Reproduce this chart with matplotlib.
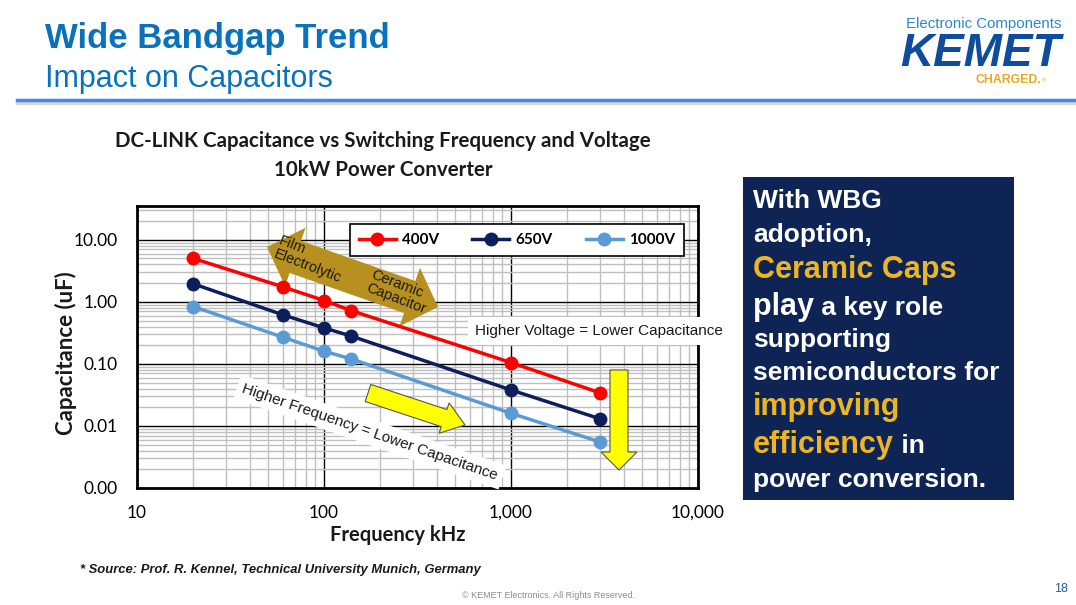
import numpy as np
import matplotlib
matplotlib.use('Agg')
from matplotlib import pyplot as plt
from matplotlib.patches import Polygon, Rectangle
from matplotlib.ticker import FixedLocator, FixedFormatter, NullFormatter, LogLocator

# data
freq = [20, 60, 100, 140, 1000, 3000]          # kHz
cap_400 = [5.0, 1.75, 1.05, 0.72, 0.105, 0.034]
cap_650 = [1.95, 0.62, 0.38, 0.28, 0.038, 0.013]
cap_1000 = [0.84, 0.27, 0.16, 0.12, 0.016, 0.0055]
series_names = ['400V', '650V', '1000V']
series_colors = ['#FF0000', '#0C1F5C', '#5B9BD5']

xticks = [10, 100, 1000, 10000]
xlabels = ['10', '100', '1,000', '10,000']
yticks = [0.001, 0.01, 0.1, 1, 10]
ylabels = ['0.00', '0.01', '0.10', '1.00', '10.00']

W, H = 1076, 605
fig = plt.figure(figsize=(W/100, H/100), dpi=100)
fig.patch.set_facecolor('white')

def px(x, y):
    return (x/W, 1 - y/H)

def fat_arrow(p0, p1, shaft, hw, hl, double=False):
    p0 = np.array(p0, float); p1 = np.array(p1, float)
    u = (p1 - p0) / np.linalg.norm(p1 - p0)
    n = np.array([-u[1], u[0]])
    b1 = p1 - u*hl
    if double:
        b0 = p0 + u*hl
        pts = [p0, b0 + n*hw/2, b0 + n*shaft/2, b1 + n*shaft/2, b1 + n*hw/2, p1,
               b1 - n*hw/2, b1 - n*shaft/2, b0 - n*shaft/2, b0 - n*hw/2]
    else:
        pts = [p0 + n*shaft/2, b1 + n*shaft/2, b1 + n*hw/2, p1,
               b1 - n*hw/2, b1 - n*shaft/2, p0 - n*shaft/2]
    return [px(*p) for p in pts]

# ---- chart axes
ax = fig.add_axes([137/W, 1 - 488/H, (698-137)/W, (488-206)/H])
ax.set_xscale('log')
ax.set_yscale('log')
ax.set_xlim(10, 10000)
ax.set_ylim(0.001, 35)
ax.set_axisbelow(True)
ax.xaxis.set_major_locator(FixedLocator(xticks))
ax.xaxis.set_major_formatter(FixedFormatter(xlabels))
ax.yaxis.set_major_locator(FixedLocator(yticks))
ax.yaxis.set_major_formatter(FixedFormatter(ylabels))
ax.xaxis.set_minor_locator(LogLocator(base=10, subs=np.arange(2, 10)))
ax.yaxis.set_minor_locator(LogLocator(base=10, subs=np.arange(2, 10)))
ax.xaxis.set_minor_formatter(NullFormatter())
ax.yaxis.set_minor_formatter(NullFormatter())
ax.grid(which='minor', color='#BFBFBF', linewidth=1.0)
ax.grid(which='major', color='black', linewidth=1.0)
ax.tick_params(which='both', length=0)
ax.tick_params(axis='x', pad=12, labelsize=12.5)
ax.tick_params(axis='y', pad=14, labelsize=12.5)
for lab in ax.get_xticklabels() + ax.get_yticklabels():
    lab.set_fontfamily('Lato')
for s in ax.spines.values():
    s.set_linewidth(2)
    s.set_color('black')

for vals, name, col in zip([cap_400, cap_650, cap_1000], series_names, series_colors):
    ax.plot(freq, vals, '-o', color=col, lw=2.5, ms=9, label=name, zorder=4)

leg = ax.legend(loc='center', bbox_to_anchor=px(517, 240), bbox_transform=fig.transFigure,
                ncol=3, frameon=True, fancybox=False, edgecolor='black', framealpha=1,
                handlelength=2.4, handletextpad=0.4, columnspacing=2.2, borderpad=0.6,
                prop={'family': 'Lato', 'weight': 'bold', 'size': 11})
leg.get_frame().set_linewidth(1.2)
leg.set_zorder(6)

# gold double arrow (behind the lines)
ax.add_patch(Polygon(fat_arrow((267, 247), (438, 307), 34, 62, 30, double=True),
                     closed=True, transform=fig.transFigure, facecolor='#B8901F',
                     edgecolor='none', zorder=2, clip_on=False))
ax.text(*px(282, 234), 'Film\nElectrolytic', transform=fig.transFigure, rotation=-21,
        rotation_mode='anchor', ha='left', va='top', fontsize=10.5, color='#1A1A1A',
        family='Liberation Sans', linespacing=1.0, zorder=3)
ax.text(*px(374, 268), 'Ceramic\nCapacitor', transform=fig.transFigure, rotation=-21,
        rotation_mode='anchor', ha='left', va='top', fontsize=10.5, color='#1A1A1A',
        family='Liberation Sans', linespacing=1.0, zorder=3)

# yellow arrows
ax.add_patch(Polygon(fat_arrow((368, 393), (465, 425), 18, 32, 22),
                     closed=True, transform=fig.transFigure, facecolor='#FFFF00',
                     edgecolor='#555555', lw=0.8, zorder=5, clip_on=False))
ax.add_patch(Polygon(fat_arrow((619, 370), (619, 470), 18, 36, 18),
                     closed=True, transform=fig.transFigure, facecolor='#FFFF00',
                     edgecolor='#555555', lw=0.8, zorder=5, clip_on=False))

fig.text(*px(370, 432), 'Higher Frequency = Lower Capacitance', rotation=-19,
         rotation_mode='anchor', ha='center', va='center', fontsize=11,
         family='Liberation Sans', color='#1A1A1A', zorder=10,
         bbox=dict(facecolor='white', edgecolor='none', pad=4))
fig.text(*px(599, 331), 'Higher Voltage = Lower Capacitance', ha='center', va='center',
         fontsize=11, family='Liberation Sans', color='#1A1A1A', zorder=10,
         bbox=dict(facecolor='white', edgecolor='none', pad=5))

# chart titles / labels
fig.text(*px(383, 141), 'DC-LINK Capacitance vs Switching Frequency and Voltage',
         ha='center', va='center', fontsize=14.8, weight='bold', family='Lato', color='#1A1A1A')
fig.text(*px(383, 170), '10kW Power Converter', ha='center', va='center',
         fontsize=14.8, weight='bold', family='Lato', color='#1A1A1A')
fig.text(*px(398, 535), 'Frequency kHz', ha='center', va='center', fontsize=14.5,
         weight='bold', family='Lato', color='#1A1A1A')
fig.text(*px(66, 353), 'Capacitance (uF)', ha='center', va='center', rotation=90,
         fontsize=16, weight='bold', family='Lato', color='#1A1A1A')

# ---- slide header
fig.text(*px(45, 48), 'Wide Bandgap Trend', ha='left', va='baseline', fontsize=25,
         weight='bold', family='Liberation Sans', color='#0A72BA')
fig.text(*px(45, 87), 'Impact on Capacitors', ha='left', va='baseline', fontsize=22,
         family='Liberation Sans', color='#0A72BA')
fig.add_artist(plt.Line2D([17/W, 1], [1-103/H, 1-103/H], color='#D8D8D8', lw=2.5))
fig.add_artist(plt.Line2D([17/W, 1], [1-100/H, 1-100/H], color='#4A88E8', lw=2.5))

# logo
fig.text(*px(906, 28), 'Electronic Components', ha='left', va='baseline', fontsize=10.8,
         family='Liberation Sans', color='#2A8AC6')
fig.text(*px(900, 66), 'KEMET', ha='left', va='baseline', fontsize=33, weight='bold',
         style='italic', family='Liberation Sans', color='#0D4C9E')
fig.text(*px(975, 83), 'CHARGED.', ha='left', va='baseline', fontsize=8.8, weight='bold',
         family='Liberation Sans', color='#E8A920')
fig.text(*px(1042, 82), '®', ha='left', va='baseline', fontsize=4,
         family='Liberation Sans', color='#E8A920')

# ---- right text box
fig.add_artist(Rectangle(px(743, 500), (1014-743)/W, (500-177)/H,
                         transform=fig.transFigure, facecolor='#0E2454', edgecolor='none'))
WHITE, GOLD = 'white', '#EDB424'
box_lines = [
    (208, [('With WBG', WHITE, 19)]),
    (242, [('adoption,', WHITE, 19)]),
    (278, [('Ceramic Caps', GOLD, 22)]),
    (315, [('play', WHITE, 22), (' a key role', WHITE, 19)]),
    (347, [('supporting', WHITE, 19)]),
    (380, [('semiconductors for', WHITE, 19)]),
    (415, [('improving', GOLD, 22)]),
    (453, [('efficiency', GOLD, 22), (' in', WHITE, 19)]),
    (487, [('power conversion.', WHITE, 19)]),
]
renderer = fig.canvas.get_renderer()
for yb, parts in box_lines:
    x = 753
    for txt, col, fs in parts:
        t = fig.text(*px(x, yb), txt, ha='left', va='baseline', fontsize=fs,
                     weight='bold', family='Liberation Sans', color=col)
        bb = t.get_window_extent(renderer)
        x += bb.width

# ---- footer
fig.text(*px(80, 573), '* Source: Prof. R. Kennel, Technical University Munich, Germany',
         ha='left', va='baseline', fontsize=9.4, weight='bold', style='italic',
         family='Liberation Sans', color='#1A1A1A')
fig.text(*px(549, 598), '© KEMET Electronics. All Rights Reserved.', ha='center',
         va='baseline', fontsize=6.5, family='Liberation Sans', color='#8C8C8C')
fig.text(*px(1061, 592), '18', ha='center', va='baseline', fontsize=9,
         family='Liberation Sans', color='#2A5A9A')

fig.savefig('out.png', dpi=100)
